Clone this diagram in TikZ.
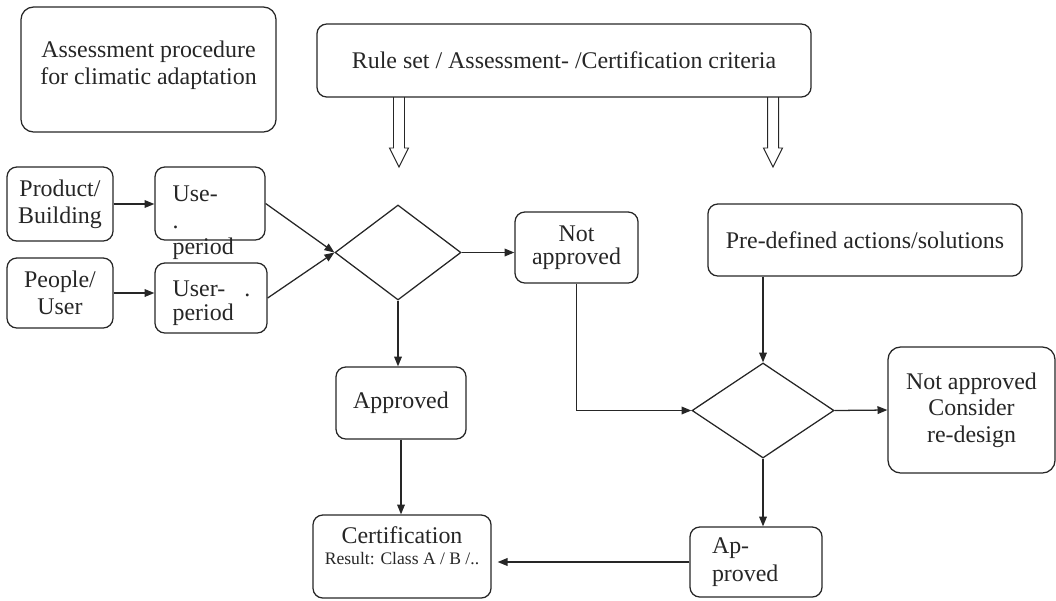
\documentclass[tikz,border=0pt]{standalone}
\usepackage{fontspec}
\setmainfont{Liberation Serif}
\usepackage{tikz}
\usetikzlibrary{shapes.geometric, arrows.meta}
\definecolor{ink}{RGB}{38, 38, 38}

\begin{document}
\begin{tikzpicture}[x=0.025cm, y=-0.025cm, line width=0.9pt, color=ink,
  font=\fontsize{17}{19}\selectfont,
  box/.style={draw, rounded corners=7pt, align=center, inner sep=2pt},
  decision/.style={draw, diamond, inner sep=0pt},
  flow/.style={-{Triangle[length=7pt, width=5.5pt]}},
  hollow/.style={line width=0.7pt, line join=miter}]
  \useasboundingbox (0, 0) rectangle (1056, 600);

  \node[box, rounded corners=9pt, minimum width=6.375cm, minimum height=3.125cm] (intro) at (148.5, 69.5)
    {Assessment procedure\\for climatic adaptation\\[-9pt]\mbox{}};
  \node[box, minimum width=12.35cm, minimum height=1.825cm] (rules) at (564, 60.5)
    {Rule set / Assessment- /Certification criteria};

  % inputs on the left
  \node[box, minimum width=2.65cm, minimum height=1.85cm] (product) at (60, 204) {Product/\\Building};
  \node[box, minimum width=2.65cm, minimum height=1.75cm] (people) at (60, 293) {People/\\User};
  \node[box, minimum width=2.75cm, minimum height=1.825cm] (use) at (210, 203.5) {};
  \node[anchor=north west, inner sep=0pt, align=left] (usetext) at (172, 185) {Use-\\.\\period};
  \node[box, minimum width=2.8cm, minimum height=1.75cm] (user) at (211, 298) {};
  \node[anchor=north west, inner sep=0pt, align=left] (usertext) at (172, 280) {User-\hspace{0.8em}.\\[-2pt]period};

  % first check
  \node[decision, minimum width=3.15cm, minimum height=2.375cm] (check) at (398, 252.5) {};
  \node[box, minimum width=3.075cm, minimum height=1.775cm] (rejected) at (576.5, 247.5) {Not\\[-3pt]approved};
  \node[box, minimum width=3.25cm, minimum height=1.8cm] (approved) at (401, 403) {Approved};
  \node[box, minimum width=4.45cm, minimum height=2.075cm] (cert) at (402, 556.5)
    {Certification\\[-4pt]{\fontsize{12.5}{14}\selectfont Result: Class A / B /..}\\[-4pt]\mbox{}};

  % second check
  \node[box, minimum width=7.85cm, minimum height=1.8cm] (actions) at (865, 240) {Pre-defined actions/solutions};
  \node[decision, minimum width=3.55cm, minimum height=2.375cm] (recheck) at (763, 410.5) {};
  \node[box, rounded corners=9pt, minimum width=4.175cm, minimum height=3.15cm] (redesign) at (971.5, 410)
    {Not approved\\Consider\\re-design};
  \node[box, minimum width=3.3cm, minimum height=1.75cm, align=left, text width=2.2cm] (approved2) at (756, 562)
    {Ap-\\[1pt]proved};

  \coordinate (crit1) at (399, 167);
  \coordinate (crit2) at (773, 167);
  \foreach \t in {crit1, crit2}
    \draw[hollow] (\t) ++(-5.5, -70) -- ++(0, 51) -- ++(-4, 0) -- (\t) -- ++(9.5, -19) -- ++(-4, 0) -- ++(0, -51);

  \draw[flow] (product.east) -- (product.east -| use.west);
  \draw[flow] (people.east) -- (people.east -| user.west);
  \draw[flow] (use.east) -- (check.west);
  \draw[flow] (user.east) -- (check.west);
  \draw[flow] (check.east) -- (check.east -| rejected.west);
  \draw[flow] (check.south) -- (check.south |- approved.north);
  \draw[flow] (approved.south) -- (approved.south |- cert.north);
  \draw[flow] (rejected.south) |- (recheck.west);
  \draw[flow] (recheck.north |- actions.south) -- (recheck.north);
  \draw[flow] (recheck.east) -- (redesign.west);
  \draw[flow] (recheck.south) -- (recheck.south |- approved2.north);
  \draw[flow, shorten >=0.15cm] (approved2.west) -- (approved2.west -| cert.east);

\end{tikzpicture}
\end{document}
